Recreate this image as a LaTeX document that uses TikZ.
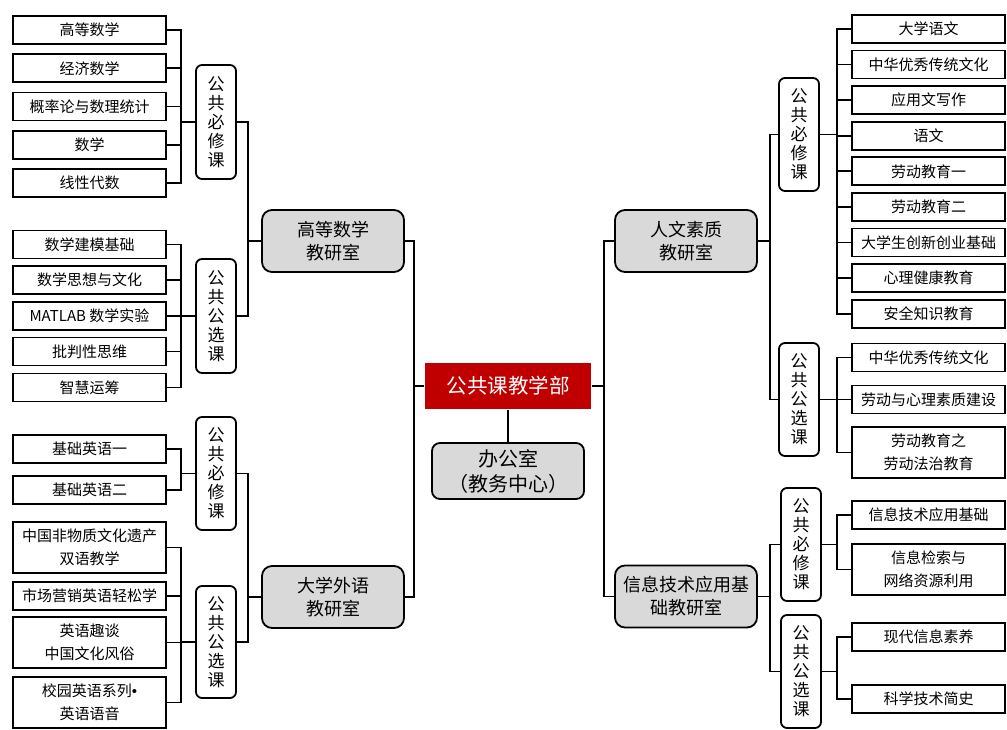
\documentclass[tikz,border=0pt]{standalone}
\usepackage{fontspec}
\setmainfont{Noto Sans CJK SC}
\newfontfamily\latinsans{Liberation Sans}
\definecolor{deptgray}{RGB}{217,217,217}
\definecolor{topred}{RGB}{192,0,0}
\begin{document}
\begin{tikzpicture}[x=1pt,y=-1pt,line width=1.8pt,
 leaf/.style={draw,minimum width=153pt,minimum height=28pt,inner sep=0pt,align=center,font=\fontsize{15}{23}\selectfont},
 leaftwo/.style={leaf,minimum height=51pt},
 grp/.style={draw,rounded corners=6pt,minimum width=40pt,minimum height=113pt,inner sep=0pt,align=center,font=\fontsize{17}{19}\selectfont},
 dept/.style={draw,rounded corners=10pt,fill=deptgray,minimum width=142pt,minimum height=62pt,inner sep=0pt,align=center,font=\fontsize{18}{23}\selectfont}]
\useasboundingbox (0,0) rectangle (1007,730);

% center
\node[fill=topred,text=white,minimum width=166pt,minimum height=46pt,inner sep=0pt,font=\fontsize{20.5}{24}\selectfont] (T) at (508,386) {公共课教学部};
\node[draw,rounded corners=8pt,fill=deptgray,minimum width=152pt,minimum height=56pt,inner sep=0pt,align=center,font=\fontsize{20}{25}\selectfont] (O) at (508,471) {办公室\\（教务中心）};

% departments
\node[dept] (M1) at (333,241) {高等数学\\教研室};
\node[dept] (M2) at (333,597) {大学外语\\教研室};
\node[dept] (M3) at (686,241) {人文素质\\教研室};
\node[dept] (M4) at (686,596.5) {信息技术应用基\\础教研室};

% groups
\node[grp,minimum height=114pt] (G1) at (216,122) {公\\共\\必\\修\\课};
\node[grp,minimum height=114pt] (G2) at (216,316) {公\\共\\公\\选\\课};
\node[grp] (G3) at (216,473.5) {公\\共\\必\\修\\课};
\node[grp,minimum height=112pt] (G4) at (216,642) {公\\共\\公\\选\\课};
\node[grp] (G5) at (799,134.5) {公\\共\\必\\修\\课};
\node[grp] (G6) at (799,399.5) {公\\共\\公\\选\\课};
\node[grp] (G7) at (801,544.5) {公\\共\\必\\修\\课};
\node[grp] (G8) at (801,671.5) {公\\共\\公\\选\\课};

% left leaves
\node[leaf] (L1) at (89.5,30) {高等数学};
\node[leaf] (L2) at (89.5,68.3) {经济数学};
\node[leaf] (L3) at (89.5,106.5) {概率论与数理统计};
\node[leaf] (L4) at (89.5,144.8) {数学};
\node[leaf] (L5) at (89.5,183) {线性代数};
\node[leaf] (L6) at (89.5,244.5) {数学建模基础};
\node[leaf] (L7) at (89.5,280) {数学思想与文化};
\node[leaf] (L8) at (89.5,316) {MATLAB 数学实验};
\node[leaf] (L9) at (89.5,351.5) {批判性思维};
\node[leaf] (L10) at (89.5,387.5) {智慧运筹};
\node[leaf] (L11) at (89.5,449) {基础英语一};
\node[leaf] (L12) at (89.5,490) {基础英语二};
\node[leaftwo] (L13) at (89.5,547.5) {中国非物质文化遗产\\双语教学};
\node[leaf] (L14) at (89.5,596) {市场营销英语轻松学};
\node[leaftwo] (L15) at (89.5,642.5) {英语趣谈\\中国文化风俗};
\node[leaftwo] (L16) at (89.5,702.5) {校园英语系列{\latinsans•}\\英语语音};

% right leaves
\node[leaf] (R1) at (928.5,29) {大学语文};
\node[leaf] (R2) at (928.5,64.6) {中华优秀传统文化};
\node[leaf] (R3) at (928.5,100.2) {应用文写作};
\node[leaf] (R4) at (928.5,135.8) {语文};
\node[leaf] (R5) at (928.5,171.4) {劳动教育一};
\node[leaf] (R6) at (928.5,207) {劳动教育二};
\node[leaf] (R7) at (928.5,242.6) {大学生创新创业基础};
\node[leaf] (R8) at (928.5,278.2) {心理健康教育};
\node[leaf] (R9) at (928.5,313.8) {安全知识教育};
\node[leaf] (R10) at (928.5,357.5) {中华优秀传统文化};
\node[leaf] (R11) at (928.5,399.5) {劳动与心理素质建设};
\node[leaftwo] (R12) at (928.5,452.5) {劳动教育之\\劳动法治教育};
\node[leaf] (R13) at (928.5,515) {信息技术应用基础};
\node[leaftwo] (R14) at (928.5,569.5) {信息检索与\\网络资源利用};
\node[leaf] (R15) at (928.5,637) {现代信息素养};
\node[leaf] (R16) at (928.5,699) {科学技术简史};

% connectors: center
\draw (T.west) -- ++(-10,0) coordinate (ct);
\draw (M1.east) -| (ct);
\draw (M2.east) -| (ct);
\draw (T.east) -- ++(12,0) coordinate (cr);
\draw (M3.west) -| (cr);
\draw (M4.west) -| (cr);
\draw (T.south) -- (O.north);

% departments to groups
\draw (M1.west) -- ++(-13,0) coordinate (c1);
\draw (G1.east) -| (c1);
\draw (G2.east) -| (c1);
\draw (M2.west) -- ++(-13,0) coordinate (c2);
\draw (G3.east) -| (c2);
\draw (G4.east) -| (c2);
\draw (M3.east) -- ++(12,0) coordinate (c3);
\draw (G5.west) -| (c3);
\draw (G6.west) -| (c3);
\draw (M4.east) -- ++(12,0) coordinate (c4);
\draw (G7.west) -| (c4);
\draw (G8.west) -| (c4);

% groups to leaves
\draw (G1.west) -- ++(-14,0) coordinate (b1);
\foreach \n in {L1,L2,L3,L4,L5} \draw (\n.east) -| (b1);
\draw (G2.west) -- ++(-14,0) coordinate (b2);
\foreach \n in {L6,L7,L8,L9,L10} \draw (\n.east) -| (b2);
\draw (G3.west) -- ++(-14,0) coordinate (b3);
\foreach \n in {L11,L12} \draw (\n.east) -| (b3);
\draw (G4.west) -- ++(-14,0) coordinate (b4);
\foreach \n in {L13,L14,L15,L16} \draw (\n.east) -| (b4);
\draw (G5.east) -- ++(17,0) coordinate (b5);
\foreach \n in {R1,R2,R3,R4,R5,R6,R7,R8,R9} \draw (\n.west) -| (b5);
\draw (G6.east) -- ++(17,0) coordinate (b6);
\foreach \n in {R10,R11,R12} \draw (\n.west) -| (b6);
\draw (G7.east) -- ++(15,0) coordinate (b7);
\foreach \n in {R13,R14} \draw (\n.west) -| (b7);
\draw (G8.east) -- ++(15,0) coordinate (b8);
\foreach \n in {R15,R16} \draw (\n.west) -| (b8);
\end{tikzpicture}
\end{document}
